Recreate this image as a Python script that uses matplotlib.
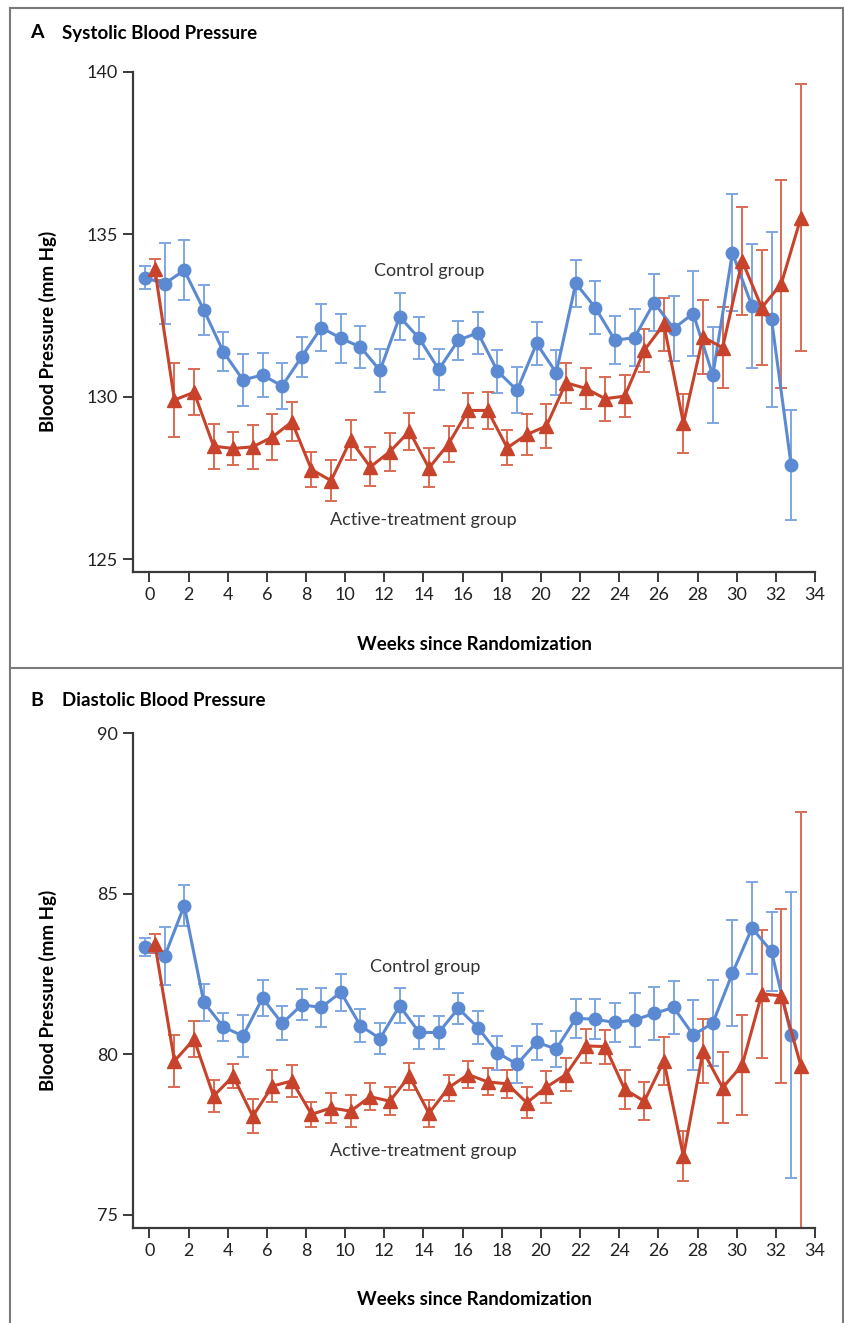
import matplotlib.pyplot as plt
from matplotlib.lines import Line2D
import numpy as np

plt.rcParams['font.family'] = ['Lato', 'DejaVu Sans']

# ======================================================
# Data
# ======================================================

weeks = np.arange(34)

sbp_control = [133.66, 133.48, 133.89, 132.67, 131.38, 130.52, 130.67, 130.33, 131.23, 132.13,
               131.80, 131.53, 130.81, 132.46, 131.80, 130.84, 131.74, 131.97, 130.79, 130.20,
               131.64, 130.74, 133.49, 132.74, 131.74, 131.82, 132.90, 132.10, 132.56, 130.66,
               134.43, 132.79, 132.38, 127.90]
sbp_control_err = [0.35, 1.25, 0.92, 0.77, 0.60, 0.80, 0.68, 0.70, 0.62, 0.73,
                   0.75, 0.66, 0.67, 0.72, 0.64, 0.64, 0.60, 0.65, 0.66, 0.71,
                   0.65, 0.70, 0.72, 0.82, 0.74, 0.87, 0.89, 1.00, 1.30, 1.48,
                   1.80, 1.90, 2.70, 1.70]
sbp_active = [133.92, 129.90, 130.14, 128.48, 128.41, 128.46, 128.76, 129.23, 127.76, 127.42,
              128.67, 127.84, 128.31, 128.94, 127.81, 128.55, 129.58, 129.58, 128.43, 128.84,
              129.10, 130.43, 130.26, 129.94, 130.02, 131.43, 132.23, 129.18, 131.84, 131.51,
              134.18, 132.74, 133.48, 135.51]
sbp_active_err = [0.33, 1.13, 0.70, 0.69, 0.50, 0.67, 0.70, 0.60, 0.55, 0.62,
                  0.63, 0.60, 0.58, 0.57, 0.60, 0.56, 0.55, 0.56, 0.54, 0.62,
                  0.68, 0.62, 0.63, 0.68, 0.64, 0.66, 0.82, 0.92, 1.14, 1.25,
                  1.67, 1.76, 3.20, 4.10]

dbp_control = [83.33, 83.05, 84.63, 81.62, 80.85, 80.57, 81.75, 80.96, 81.54, 81.46,
               81.93, 80.89, 80.49, 81.51, 80.68, 80.68, 81.43, 80.83, 80.05, 79.69,
               80.38, 80.16, 81.12, 81.09, 80.99, 81.07, 81.27, 81.46, 80.60, 80.97,
               82.52, 83.93, 83.20, 80.60]
dbp_control_err = [0.28, 0.90, 0.65, 0.58, 0.45, 0.65, 0.56, 0.53, 0.48, 0.60,
                   0.57, 0.52, 0.48, 0.54, 0.52, 0.50, 0.48, 0.52, 0.53, 0.57,
                   0.57, 0.56, 0.61, 0.62, 0.60, 0.84, 0.82, 0.83, 1.10, 1.33,
                   1.65, 1.43, 1.22, 4.45]
dbp_active = [83.44, 79.79, 80.47, 78.70, 79.32, 78.07, 79.01, 79.17, 78.13, 78.33,
              78.23, 78.68, 78.54, 79.32, 78.16, 78.96, 79.37, 79.14, 79.08, 78.49,
              78.98, 79.37, 80.26, 80.24, 78.91, 78.54, 79.79, 76.82, 80.10, 78.96,
              79.66, 81.88, 81.82, 79.64]
dbp_active_err = [0.30, 0.82, 0.56, 0.49, 0.38, 0.53, 0.50, 0.50, 0.40, 0.47,
                  0.50, 0.42, 0.43, 0.42, 0.43, 0.40, 0.43, 0.42, 0.43, 0.48,
                  0.50, 0.50, 0.52, 0.53, 0.60, 0.60, 0.74, 0.78, 1.00, 1.10,
                  1.56, 2.00, 2.70, 7.90]

# ======================================================
# Style
# ======================================================

BLUE = "#5b8ad3"
BLUE_ERR = "#7ea6e0"
RED = "#c8432b"
RED_ERR = "#d96a53"
AXIS_COLOR = "#3a3a3a"
FRAME_COLOR = "#7a7a7a"

X_SHIFT_CTRL = -0.22
X_SHIFT_ACTIVE = 0.28

PANELS = [
    {
        "letter": "A", "title": "Systolic Blood Pressure",
        "rect": [0.1578, 0.5679, 0.8067, 0.3779],
        "ylim": (124.62, 140), "yticks": [125, 130, 135, 140],
        "control": (sbp_control, sbp_control_err),
        "active": (sbp_active, sbp_active_err),
        "ctrl_label": (14.3, 133.86), "active_label": (14.0, 126.2),
        "title_y": 1 - 33 / 1323,
    },
    {
        "letter": "B", "title": "Diastolic Blood Pressure",
        "rect": [0.1578, 0.0720, 0.8067, 0.3739],
        "ylim": (74.6, 90), "yticks": [75, 80, 85, 90],
        "control": (dbp_control, dbp_control_err),
        "active": (dbp_active, dbp_active_err),
        "ctrl_label": (14.1, 82.71), "active_label": (14.0, 77.0),
        "title_y": 1 - 700 / 1323,
    },
]

# ======================================================
# Plot
# ======================================================

fig = plt.figure(figsize=(8.45, 13.23), dpi=100)

for p in PANELS:
    ax = fig.add_axes(p["rect"])

    ctrl, ctrl_err = p["control"]
    act, act_err = p["active"]

    ax.errorbar(weeks + X_SHIFT_CTRL, ctrl, yerr=ctrl_err, fmt="none",
                ecolor=BLUE_ERR, elinewidth=1.4, capsize=4, capthick=1.4, zorder=2)
    ax.errorbar(weeks + X_SHIFT_ACTIVE, act, yerr=act_err, fmt="none",
                ecolor=RED_ERR, elinewidth=1.4, capsize=4, capthick=1.4, zorder=2)

    ax.plot(weeks + X_SHIFT_CTRL, ctrl, color=BLUE, linewidth=2.2,
            marker="o", markersize=9, zorder=3)
    ax.plot(weeks + X_SHIFT_ACTIVE, act, color=RED, linewidth=2.2,
            marker="^", markersize=9.5, zorder=4)

    ax.set_xlim(-0.82, 34)
    ax.set_ylim(*p["ylim"])
    ax.set_xticks(np.arange(0, 35, 2))
    ax.set_yticks(p["yticks"])

    for side in ["top", "right"]:
        ax.spines[side].set_visible(False)
    for side in ["left", "bottom"]:
        ax.spines[side].set_color(AXIS_COLOR)
        ax.spines[side].set_linewidth(1.6)

    ax.tick_params(axis="both", direction="out", length=7, width=1.4,
                   color=AXIS_COLOR, labelsize=13, labelcolor="#222222", pad=4)

    ax.set_xlabel("Weeks since Randomization", fontsize=13.5, fontweight="bold")
    ax.xaxis.set_label_coords(0.5, -0.128)
    ax.set_ylabel("Blood Pressure (mm Hg)", fontsize=13.5, fontweight="bold")
    ax.yaxis.set_label_coords(-0.112, 0.48)

    ax.text(*p["ctrl_label"], "Control group", fontsize=13, color="#333333",
            ha="center", va="center")
    ax.text(*p["active_label"], "Active-treatment group", fontsize=13, color="#333333",
            ha="center", va="center")

    fig.text(30 / 845, p["title_y"], p["letter"], fontsize=14, fontweight="bold",
             ha="left", va="center")
    fig.text(62 / 845, p["title_y"], p["title"], fontsize=13.5, fontweight="bold",
             ha="left", va="center")

# ------------------------------------------------------
# Panel frame
# ------------------------------------------------------

frame_lines = [
    ([10 / 845, 10 / 845], [0, 1 - 8 / 1323]),
    ([10 / 845, 843 / 845], [1 - 8 / 1323, 1 - 8 / 1323]),
    ([843 / 845, 843 / 845], [0, 1 - 8 / 1323]),
    ([10 / 845, 843 / 845], [1 - 668 / 1323, 1 - 668 / 1323]),
]
for xs, ys in frame_lines:
    fig.add_artist(Line2D(xs, ys, transform=fig.transFigure,
                          color=FRAME_COLOR, linewidth=1.5))

fig.savefig("out.png", dpi=100)
